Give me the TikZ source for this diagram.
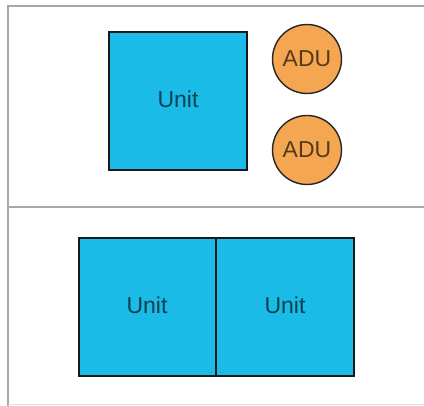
\documentclass[tikz,border=0pt]{standalone}
\usepackage{fontspec}
\setmainfont{Liberation Sans}
\definecolor{unitblue}{HTML}{1BBBE8}
\definecolor{aduorange}{HTML}{F4A651}
\definecolor{framegray}{HTML}{A8A8A8}
\begin{document}
\begin{tikzpicture}[x=1pt,y=-1pt,
  unitbox/.style={draw=black!90, line width=2.6pt, fill=unitblue, inner sep=0pt},
  adu/.style={circle, draw=black!85, line width=1.4pt, fill=aduorange, minimum size=69pt, inner sep=0pt},
  lbl/.style={font=\fontsize{23}{26}\selectfont, text=black, text opacity=0.65},
  frameline/.style={draw=framegray, line width=1.8pt}]
\useasboundingbox (0,0) rectangle (424,406);
% frame
\coordinate (ftl) at (8,6);
\coordinate (ftr) at (426,6);
\coordinate (fml) at (8,207);
\coordinate (fmr) at (426,207);
\coordinate (fbl) at (8,406);
\path[frameline] (ftr) -- (ftl) -- (fbl);
\path[frameline] (fml) -- (fmr);
\draw[draw=black!12, line width=1pt] (8,404.5) -- (426,404.5);
% top unit
\draw[unitbox] (109,32) rectangle (247,170);
\node[lbl] (u1) at (178,99) {Unit};
% ADUs
\node[adu] (a1) at (307,59) {};
\node[lbl] at (a1) {ADU};
\node[adu] (a2) at (307,150) {};
\node[lbl] at (a2) {ADU};
% bottom units
\draw[unitbox] (79,238) rectangle (354,376);
\draw[black!90, line width=2.6pt] (216,238) -- (216,376);
\node[lbl] (u2) at (147,305) {Unit};
\node[lbl] (u3) at (285,305) {Unit};
\end{tikzpicture}
\end{document}
